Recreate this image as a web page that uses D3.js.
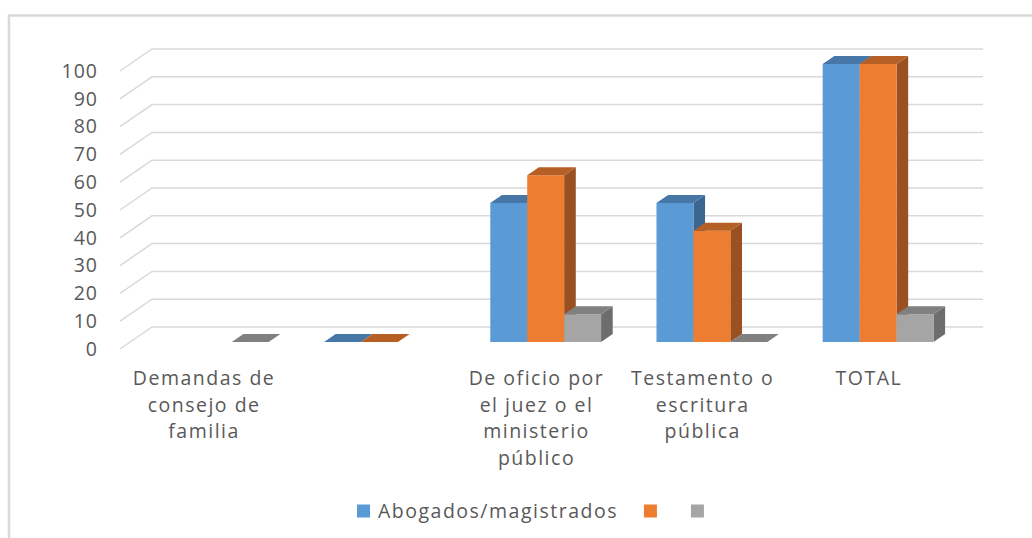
<!DOCTYPE html>
<html>
<head>
<meta charset="utf-8">
<script src="https://cdn.jsdelivr.net/npm/d3@7"></script>
<style>
  html, body { margin: 0; padding: 0; background: #fff; }
  svg { display: block; }
  text { font-family: "Open Sans", Lato, sans-serif; fill: #595959; letter-spacing: 1.5px; }
</style>
</head>
<body>
<svg id="chart" width="1032" height="538"></svg>
<script>
// ---- data ----
const categories = [
  "Demandas de\nconsejo de\nfamilia",
  "",
  "De oficio por\nel juez o el\nministerio\npúblico",
  "Testamento o\nescritura\npública",
  "TOTAL"
];
const seriesNames = ["Abogados/magistrados", "", ""];
const seriesBlue   = [null, 0, 50, 50, 100];
const seriesOrange = [null, 0, 60, 40, 100];
const seriesGray   = [0, null, 10, 0, 10];
const yTicks = [0, 10, 20, 30, 40, 50, 60, 70, 80, 90, 100];

const seriesValues = [seriesBlue, seriesOrange, seriesGray];
const colors = [
  { front: "#5B9BD5", top: "#4677A6", side: "#3B6690" },
  { front: "#ED7D31", top: "#B65F24", side: "#9A5020" },
  { front: "#A5A5A5", top: "#808080", side: "#6D6D6D" }
];

const svg = d3.select("#chart");
const FONT = 19.5;
const FAMILY = "'Open Sans', Lato, sans-serif";

// chart border
svg.append("rect")
  .attr("x", 9).attr("y", 15.5)
  .attr("width", 1100).attr("height", 600)
  .attr("fill", "none").attr("stroke", "#d9d9d9").attr("stroke-width", 2.5);

// 3D projection parameters
const DX = 32, DY = 22;
const x = d3.scaleBand().domain(d3.range(categories.length)).range([120, 951]);
const y = d3.scaleLinear().domain([0, 100]).range([349, 71]);
const bw = x.bandwidth() / 4.5;            // gap width 150%
const inner = d3.scaleBand().domain(d3.range(seriesValues.length))
  .range([0.75 * bw, 3.75 * bw]);
const d1 = 7 / 22, d2 = 15 / 22;
const P = (px, v, d) => [px + d * DX, y(v) - d * DY];

// gridlines: back wall + left diagonals
const grid = svg.append("g");
yTicks.forEach(t => {
  const a = P(x.range()[0], t, 0), b = P(x.range()[0], t, 1), c = P(x.range()[1], t, 1);
  grid.append("path")
    .attr("d", d3.line()([a, b, c]))
    .attr("fill", "none").attr("stroke", "#d9d9d9").attr("stroke-width", 1.5);
});

// y axis labels
const yAxis = d3.axisLeft(y).tickValues(yTicks).tickSize(0).tickPadding(5);
const yg = svg.append("g").attr("transform", "translate(103,0)").call(yAxis);
yg.select(".domain").remove();
yg.selectAll("text").style("font-size", FONT + "px").attr("fill", "#595959")
  .style("font-family", FAMILY).style("letter-spacing", "1px");

// bars
const bars = svg.append("g");
categories.forEach((c, ci) => {
  seriesValues.forEach((vals, si) => {
    const v = vals[ci];
    if (v === null || v === undefined) return;
    const x0 = x(ci) + inner(si), x1 = x0 + inner.bandwidth();
    const col = colors[si];
    const g = bars.append("g");
    g.append("path")
      .attr("d", d3.line()([P(x1, 0, d1), P(x1, v, d1), P(x1, v, d2), P(x1, 0, d2)]) + "Z")
      .attr("fill", col.side);
    g.append("path")
      .attr("d", d3.line()([P(x0, 0, d1), P(x0, v, d1), P(x1, v, d1), P(x1, 0, d1)]) + "Z")
      .attr("fill", col.front);
    g.append("path")
      .attr("d", d3.line()([P(x0, v, d1), P(x1, v, d1), P(x1, v, d2), P(x0, v, d2)]) + "Z")
      .attr("fill", col.top);
  });
});

// category labels
const catG = svg.append("g");
categories.forEach((c, ci) => {
  const cx = x(ci) + x.bandwidth() / 2 + 1;
  const t = catG.append("text")
    .attr("x", cx).attr("y", 385)
    .attr("text-anchor", "middle")
    .style("font-size", FONT + "px").style("font-family", FAMILY);
  c.split("\n").forEach((line, li) => {
    t.append("tspan").attr("x", cx).attr("dy", li === 0 ? 0 : 26.6).text(line);
  });
});

// legend
const leg = svg.append("g");
let lx = 357;
const ly = 511;
seriesNames.forEach((name, si) => {
  leg.append("rect").attr("x", lx).attr("y", ly - 6.5).attr("width", 13).attr("height", 13)
    .attr("fill", colors[si].front);
  const t = leg.append("text").attr("x", lx + 21).attr("y", ly).attr("dy", "0.35em")
    .style("font-size", FONT + "px").style("font-family", FAMILY).text(name);
  const w = name ? t.node().getComputedTextLength() : 0;
  lx += 13 + 8 + w + 26;
});
</script>
</body>
</html>
